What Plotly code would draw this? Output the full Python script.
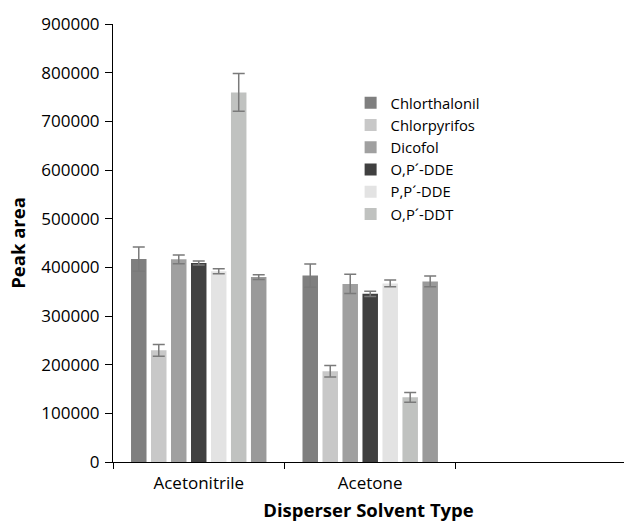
import plotly.graph_objects as go

categories = ["Acetonitrile", "Acetone"]
series_names = ["Chlorthalonil", "Chlorpyrifos", "Dicofol", "O,P´-DDE", "P,P´-DDE", "O,P´-DDT", "P,P´-DDT"]
show_in_legend = [True, True, True, True, True, True, False]
colors = ["#7f7f7f", "#c8c8c8", "#a0a0a0", "#404040", "#e3e3e3", "#c0c2c0", "#9a9a9a"]

chlorthalonil = [417000, 383000]
chlorpyrifos = [229500, 186500]
dicofol = [416500, 366000]
op_dde = [409000, 345500]
pp_dde = [392000, 367000]
op_ddt = [759500, 133000]
pp_ddt = [380000, 371000]

chlorthalonil_err = [25000, 24000]
chlorpyrifos_err = [12000, 12000]
dicofol_err = [9000, 20000]
op_dde_err = [4000, 5500]
pp_dde_err = [5000, 7000]
op_ddt_err = [39000, 10000]
pp_ddt_err = [5000, 11000]

values = [chlorthalonil, chlorpyrifos, dicofol, op_dde, pp_dde, op_ddt, pp_ddt]
errors = [chlorthalonil_err, chlorpyrifos_err, dicofol_err, op_dde_err, pp_dde_err, op_ddt_err, pp_ddt_err]

y_ticks = [0, 100000, 200000, 300000, 400000, 500000, 600000, 700000, 800000, 900000]
axis_categories = categories + [" "]

FONT = "Open Sans"

fig = go.Figure()
for name, vals, errs, col, sl in zip(series_names, values, errors, colors, show_in_legend):
    fig.add_trace(go.Bar(
        x=categories, y=vals, name=name, showlegend=sl,
        marker=dict(color=col, line=dict(width=0)),
        error_y=dict(type="data", array=errs, visible=True, color="#7a7a7a", thickness=1.5, width=6),
    ))

# empty third category slot on the axis
fig.add_trace(go.Scatter(x=[" "], y=[0], mode="markers", marker=dict(opacity=0),
                         showlegend=False, hoverinfo="skip"))

fig.update_layout(
    width=625, height=524,
    margin=dict(l=113, r=1, t=24, b=62),
    paper_bgcolor="white", plot_bgcolor="white",
    barmode="group", bargap=0.184, bargroupgap=0.225,
    font=dict(family=FONT, size=17, color="#000000"),
    legend=dict(x=0.465, y=0.857, xanchor="left", yanchor="top",
                font=dict(family=FONT, size=14.8, color="#000000"),
                bgcolor="rgba(0,0,0,0)", tracegroupgap=0),
    xaxis=dict(
        type="category", categoryorder="array", categoryarray=axis_categories,
        range=[-0.5, 2.48], tickson="boundaries", ticks="outside", ticklen=6,
        tickcolor="#000000", showline=True, linecolor="#000000", linewidth=1,
        showgrid=False, zeroline=False, ticklabelstandoff=6,
        tickfont=dict(family=FONT, size=17),
        title=dict(text="<b>Disperser Solvent Type</b>", font=dict(family=FONT, size=18.5), standoff=10),
    ),
    yaxis=dict(
        range=[0, 900000], tickvals=y_ticks, tickformat="d",
        ticks="outside", ticklen=7, tickcolor="#000000",
        showline=True, linecolor="#000000", linewidth=1,
        showgrid=False, zeroline=False, ticklabelstandoff=2,
        tickfont=dict(family=FONT, size=17),
        title=dict(text="<b>Peak area</b>", font=dict(family=FONT, size=18.5), standoff=10),
    ),
)

fig.write_html("out.html")
